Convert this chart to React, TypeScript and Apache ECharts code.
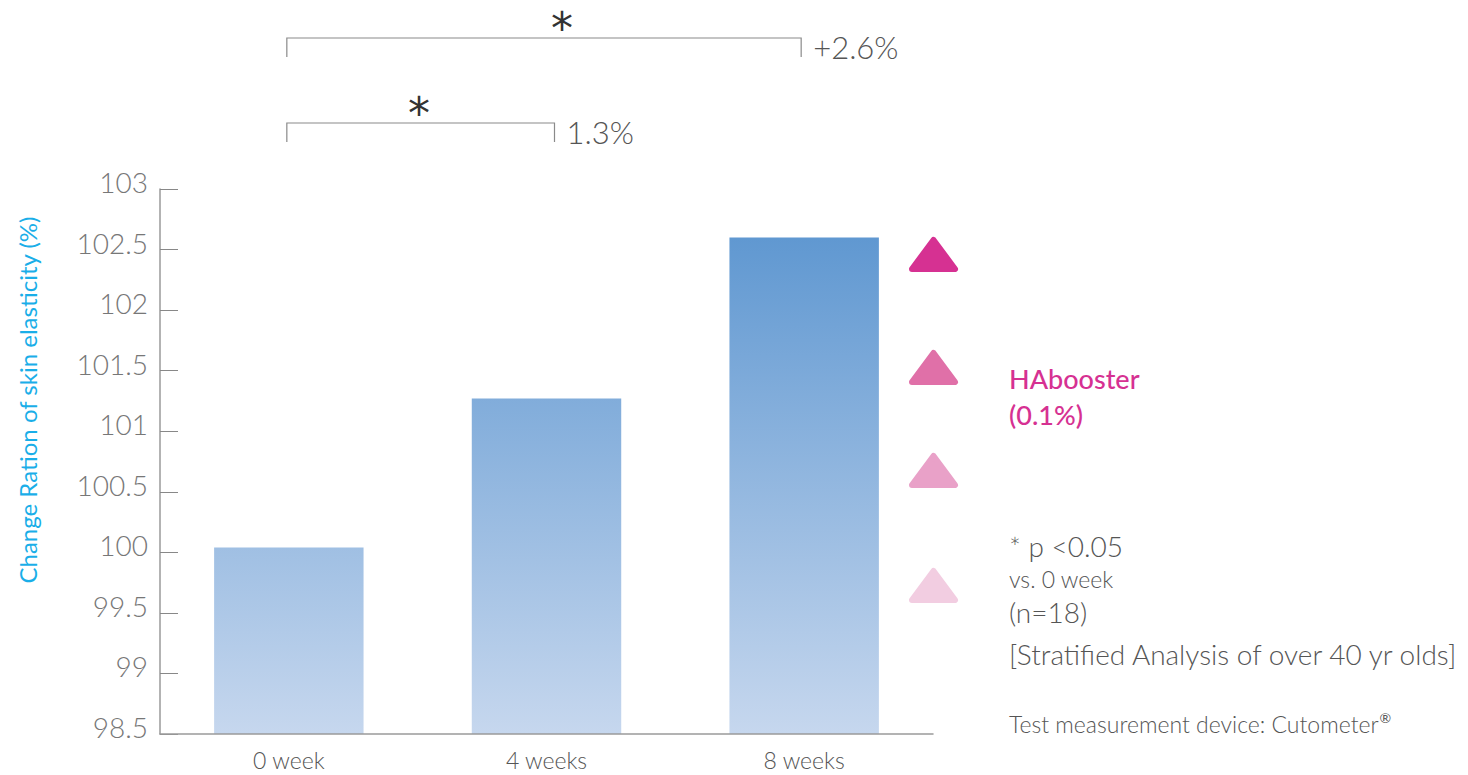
import React, { useEffect, useRef } from "react";
import * as echarts from "echarts";

const categories = ["0 week", "4 weeks", "8 weeks"];
const elasticity = [100.04, 101.27, 102.6];
const yMin = 98.5;
const yMax = 103;
const yStep = 0.5;
const brackets = [
  { from: 0, to: 2, label: "+2.6%" },
  { from: 0, to: 1, label: "1.3%" },
];
const legendTriangleColors = ["#D63192", "#E070A8", "#E9A1C8", "#F2CDE1"];
const noteLines = [
  { text: "* p <0.05", size: 28, y: 546 },
  { text: "vs. 0 week", size: 23, y: 579 },
  { text: "(n=18)", size: 28, y: 612 },
  { text: "[Stratified Analysis of over 40 yr olds]", size: 28, y: 654 },
];
const deviceNote = "Test measurement device: Cutometer";

const FONT = "Lato, 'Open Sans', sans-serif";

export default function App() {
  const ref = useRef<HTMLDivElement>(null);
  useEffect(() => {
    document.body.style.margin = "0";
    const chart = echarts.init(ref.current!, null, { renderer: "svg" });
    const gridTop = 189;
    const gridBottom = 734;
    const option: any = {
      animation: false,
      backgroundColor: "#ffffff",
      grid: { left: 160, right: 535, top: gridTop, bottom: 775 - gridBottom },
      xAxis: {
        type: "category",
        data: categories,
        axisLine: { lineStyle: { color: "#9a9a9a", width: 1.5 } },
        axisTick: { inside: true, length: 18, lineStyle: { color: "#777", width: 1 } },
        axisLabel: { color: "#555", fontSize: 23, fontFamily: FONT, fontWeight: 300, margin: 14 },
        z: 5,
      },
      yAxis: {
        type: "value",
        min: yMin,
        max: yMax,
        interval: yStep,
        axisLine: { show: true, lineStyle: { color: "#9a9a9a", width: 1.5 } },
        axisTick: { show: true, inside: true, length: 18, lineStyle: { color: "#888" } },
        splitLine: { show: false },
        axisLabel: {
          color: "#777",
          fontSize: 28,
          fontFamily: FONT,
          fontWeight: 300,
          margin: 12,
          verticalAlign: "bottom",
          lineHeight: 14,
        },
      },
      series: [
        {
          type: "bar",
          data: elasticity,
          barWidth: "58%",
          itemStyle: {
            color: {
              type: "linear",
              global: true,
              x: 0,
              y: 238,
              x2: 0,
              y2: gridBottom,
              colorStops: [
                { offset: 0, color: "#6098D1" },
                { offset: 1, color: "#C6D7EE" },
              ],
            },
          },
        },
      ],
    };
    chart.setOption(option);

    const g: any[] = [];
    g.push({
      type: "text",
      x: 27,
      y: 400,
      rotation: Math.PI / 2,
      style: {
        text: "Change Ration of skin elasticity (%)",
        fontSize: 24,
        fill: "#1AAEE8",
        fontFamily: FONT,
        align: "center",
        verticalAlign: "middle",
      },
    });
    const bracketLevels = [
      { top: 38, starX: 562, starY: 28, labelY: 47 },
      { top: 123, starX: 419, starY: 113, labelY: 132 },
    ];
    brackets.forEach((b, i) => {
      const lv = bracketLevels[i];
      const x1 = (chart.convertToPixel({ xAxisIndex: 0 }, categories[b.from]) as number) - 2;
      const x2 = (chart.convertToPixel({ xAxisIndex: 0 }, categories[b.to]) as number) + (i === 1 ? 8 : -3);
      g.push({
        type: "polyline",
        shape: { points: [[x1, lv.top + 19], [x1, lv.top], [x2, lv.top], [x2, lv.top + 19]] },
        style: { stroke: "#8a8a8a", lineWidth: 1.2, fill: "none" },
      });
      g.push({
        type: "text",
        x: lv.starX,
        y: lv.starY,
        style: { text: "*", fontSize: 44, fill: "#333", fontFamily: "'DejaVu Sans', sans-serif", align: "center", verticalAlign: "middle" },
      });
      g.push({
        type: "text",
        x: x2 + 12,
        y: lv.labelY,
        style: { text: b.label, fontSize: 31, fill: "#555", fontFamily: FONT, fontWeight: 300, align: "left", verticalAlign: "middle" },
      });
    });
    const triYs = [237, 350, 453, 568];
    legendTriangleColors.forEach((c, i) => {
      const y = triYs[i];
      g.push({
        type: "polygon",
        shape: { points: [[933.5, y + 3], [955, y + 32], [912, y + 32]] },
        style: { fill: c, stroke: c, lineWidth: 6, lineJoin: "round" },
      });
    });
    g.push({
      type: "text",
      x: 1009,
      y: 360,
      style: { text: "HAbooster\n(0.1%)", fontSize: 27, lineHeight: 36, fill: "#D63192", fontFamily: FONT, fontWeight: 500, align: "left", verticalAlign: "top" },
    });
    noteLines.forEach((n) => {
      g.push({
        type: "text",
        x: 1009,
        y: n.y,
        style: { text: n.text, fontSize: n.size, fill: "#555", fontFamily: FONT, fontWeight: 300, align: "left", verticalAlign: "middle" },
      });
    });
    g.push({
      type: "text",
      x: 1009,
      y: 724,
      style: {
        text: deviceNote + "{sup|®}",
        fontSize: 23,
        fill: "#555",
        fontFamily: FONT,
        fontWeight: 300,
        align: "left",
        verticalAlign: "middle",
        rich: { sup: { fontSize: 14, fill: "#555", fontFamily: FONT, padding: [0, 0, 14, 1] } },
      },
    });
    chart.setOption({ graphic: g });

    return () => chart.dispose();
  }, []);
  return <div ref={ref} style={{ width: 1468, height: 775 }} />;
}
